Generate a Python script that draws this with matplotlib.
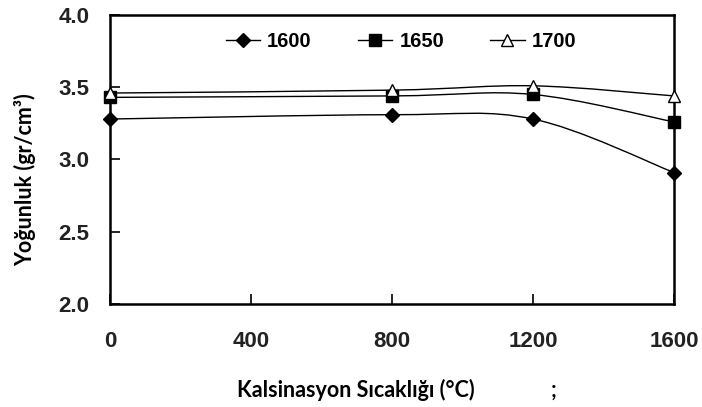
""" Density vs calcination temperature, three sintering temperatures. """

import matplotlib.pyplot as plt
import numpy as np
from matplotlib.path import Path
from matplotlib.patches import PathPatch

# Calcination temperatures (x) and densities per sintering temperature
temps = [0, 800, 1200, 1600]
series_names = ['1600', '1650', '1700']
dens_1600 = [3.28, 3.31, 3.28, 2.91]
dens_1650 = [3.43, 3.44, 3.45, 3.26]
dens_1700 = [3.46, 3.48, 3.51, 3.44]
markers = ['D', 's', '^']
marker_faces = ['black', 'black', 'white']
marker_sizes = [7, 8.5, 9]


def smooth_path(xs, ys):
    """ Excel-like smoothed line as a cubic Bezier path through the points. """
    pts = np.column_stack([xs, ys]).astype(float)
    n = len(pts)
    verts = [pts[0]]
    codes = [Path.MOVETO]
    for i in range(n - 1):
        p0 = pts[i - 1] if i > 0 else pts[i]
        p1 = pts[i]
        p2 = pts[i + 1]
        p3 = pts[i + 2] if i + 2 < n else pts[i + 1]
        c1 = p1 + (p2 - p0) / 6.0
        c2 = p2 - (p3 - p1) / 6.0
        verts += [c1, c2, p2]
        codes += [Path.CURVE4] * 3
    return Path(verts, codes)


fig = plt.figure(figsize=(7.02, 4.07), dpi=100)
ax = fig.add_axes([110 / 702, 1 - 304 / 407, 564 / 702, 289 / 407])

for name, vals, m, fc, ms in zip(series_names, [dens_1600, dens_1650, dens_1700],
                                 markers, marker_faces, marker_sizes):
    ax.add_patch(PathPatch(smooth_path(temps, vals), fill=False, color='black', lw=1.0))
    ax.plot(temps, vals, ls='none', marker=m, mfc=fc, mec='black', ms=ms, mew=1.0,
            clip_on=False, zorder=3)
    # proxy for the legend
    ax.plot([], [], color='black', lw=1.0, marker=m, mfc=fc, mec='black', ms=ms,
            label=name)

ax.set_xlim(0, 1600)
ax.set_ylim(2.0, 4.0)
ax.set_xticks([0, 400, 800, 1200, 1600])
ax.set_yticks([2.0, 2.5, 3.0, 3.5, 4.0])
ax.set_yticklabels(['2.0', '2.5', '3.0', '3.5', '4.0'])

for s in ax.spines.values():
    s.set_linewidth(1.8)

ax.tick_params(axis='x', direction='in', length=7, width=1.2, pad=19.5)
ax.tick_params(axis='y', direction='in', length=7, width=1.2, pad=15)
for lab in ax.get_xticklabels() + ax.get_yticklabels():
    lab.set_fontfamily('Liberation Sans')
    lab.set_fontweight('bold')
    lab.set_fontsize(16)
    lab.set_color('#222222')

leg = ax.legend(loc='center', bbox_to_anchor=(0.516, 0.907), ncol=3, frameon=False,
                handlelength=1.7, handletextpad=0.35, columnspacing=2.3,
                borderpad=0, prop={'family': 'Liberation Sans', 'weight': 'bold',
                                   'size': 14.5})

fig.text(356 / 702, 1 - 390 / 407, 'Kalsinasyon Sıcaklığı (°C)', family='Lato',
         weight='bold', fontsize=15.5, ha='center', va='center')
fig.text(554 / 702, 1 - 390 / 407, ';', family='Lato', weight='bold', fontsize=15.5,
         ha='center', va='center')
fig.text(25 / 702, 1 - 180 / 407, 'Yoğunluk (gr/cm³)', family='Lato', weight='bold',
         fontsize=15.5, ha='center', va='center', rotation=90)

fig.savefig('out.png', dpi=100)
